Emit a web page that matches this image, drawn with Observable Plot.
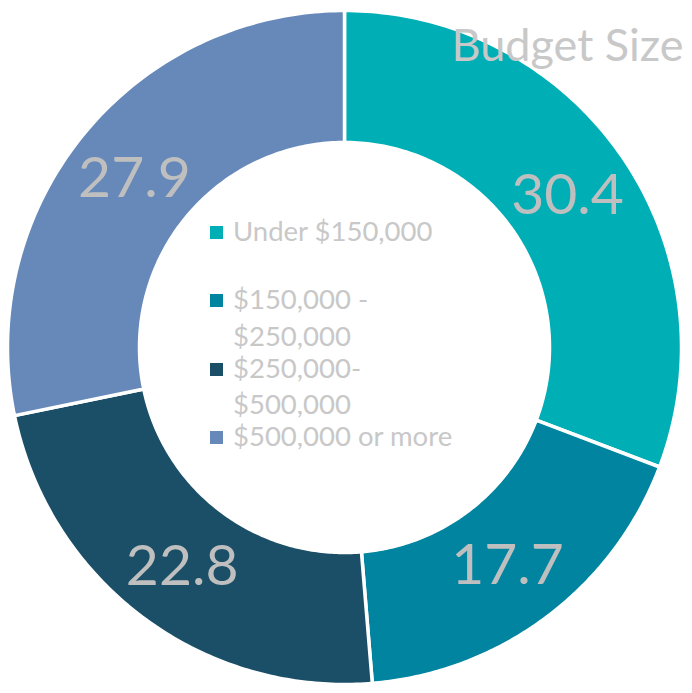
<!DOCTYPE html>
<html>
<head>
<meta charset="utf-8">
<script src="https://cdn.jsdelivr.net/npm/d3@7"></script>
<script src="https://cdn.jsdelivr.net/npm/@observablehq/plot@0.6"></script>
<style>
  html, body { margin: 0; padding: 0; background: #fff; }
  #wrap { position: relative; width: 692px; height: 693px; font-family: Lato, "Open Sans", sans-serif; }
  #legend { position: absolute; left: 210px; top: 0; }
  .li { position: absolute; left: 0; white-space: nowrap; font-size: 27.5px; color: #c8c8c8; line-height: 1; }
  .sw { position: absolute; left: 0; width: 13px; height: 13px; }
</style>
</head>
<body>
<div id="wrap"></div>
<script>
const categories = ["Under $150,000", "$150,000 - $250,000", "$250,000- $500,000", "$500,000 or more"];
const values = [30.4, 17.7, 22.8, 27.9];
const colors = ["#00afb6", "#00849f", "#1a4f67", "#6689b9"];
const title = "Budget Size";

const innerRatio = 205 / 337;
const pie = d3.pie().sort(null).value(d => d.value)(categories.map((c, i) => ({category: c, value: values[i]})));

const polys = [];
const labels = [];
pie.forEach(p => {
  const n = 120;
  const pts = [];
  for (let k = 0; k <= n; k++) {
    const a = p.startAngle + (p.endAngle - p.startAngle) * k / n;
    pts.push({category: p.data.category, x: Math.sin(a), y: Math.cos(a)});
  }
  for (let k = n; k >= 0; k--) {
    const a = p.startAngle + (p.endAngle - p.startAngle) * k / n;
    pts.push({category: p.data.category, x: innerRatio * Math.sin(a), y: innerRatio * Math.cos(a)});
  }
  pts.push({...pts[0]});
  polys.push(...pts);
  const m = (p.startAngle + p.endAngle) / 2;
  const r = (1 + innerRatio) / 2;
  labels.push({category: p.data.category, value: p.data.value, x: r * Math.sin(m), y: r * Math.cos(m)});
});

const chart = Plot.plot({
  width: 692,
  height: 693,
  marginLeft: 7,
  marginRight: 11,
  marginTop: 10,
  marginBottom: 9,
  x: {domain: [-1, 1], axis: null},
  y: {domain: [-1, 1], axis: null},
  color: {domain: categories, range: colors},
  style: {fontFamily: "Lato, 'Open Sans', sans-serif", background: "white"},
  marks: [
    Plot.line(polys, {x: "x", y: "y", z: "category", fill: "category", stroke: "white", strokeWidth: 3.5, curve: "linear"}),
    Plot.text(labels, {x: "x", y: "y", text: d => d.value.toFixed(1), fill: "#bfbfbf", fontSize: 57, dy: 2}),
    Plot.text([title], {frameAnchor: "top-right", text: d => d, fill: "#c8c8c8", fontSize: 45, dx: 2, dy: 19, textAnchor: "end"})
  ]
});

const wrap = document.getElementById("wrap");
wrap.appendChild(chart);

const legend = document.createElement("div");
legend.id = "legend";
const lines = [
  {sw: 0, text: "Under $150,000", y: 232},
  {sw: 1, text: "$150,000 -", y: 300},
  {sw: null, text: "$250,000", y: 337},
  {sw: 2, text: "$250,000-", y: 369},
  {sw: null, text: "$500,000", y: 405},
  {sw: 3, text: "$500,000 or more", y: 437}
];
lines.forEach(l => {
  const t = document.createElement("div");
  t.className = "li";
  t.style.left = "23px";
  t.style.top = (l.y - 15) + "px";
  t.textContent = l.text;
  legend.appendChild(t);
  if (l.sw !== null) {
    const s = document.createElement("div");
    s.className = "sw";
    s.style.background = colors[l.sw];
    s.style.top = (l.y - 6) + "px";
    legend.appendChild(s);
  }
});
wrap.appendChild(legend);
</script>
</body>
</html>
